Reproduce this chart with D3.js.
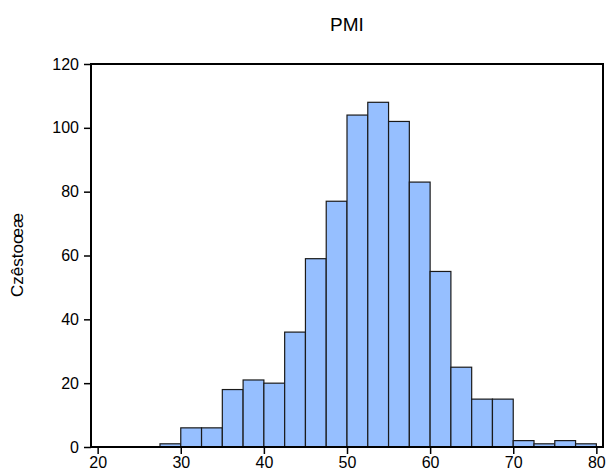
<!DOCTYPE html>
<html><head><meta charset="utf-8">
<script src="https://cdn.jsdelivr.net/npm/d3@7"></script>
<style>body{margin:0;background:#fff}</style>
</head><body>
<svg id="c" width="606" height="474"></svg>
<script>
const binStarts = [27.5,30,32.5,35,37.5,40,42.5,45,47.5,50,52.5,55,57.5,60,62.5,65,67.5,70,72.5,75,77.5];
const counts    = [1,6,6,18,21,20,36,59,77,104,108,102,83,55,25,15,15,2,1,2,1];
const binWidth = 2.5;
const xTicks = [20,30,40,50,60,70,80];
const yTicks = [0,20,40,60,80,100,120];
const title = "PMI";
const yLabel = "Czêstoœæ";

const svg = d3.select("#c");
const L=91, R=603, T=64, B=447;
const x = d3.scaleLinear().domain([19.2,80.8]).range([L,R]);
const y = d3.scaleLinear().domain([0,120]).range([B,T]);
const font = "'Liberation Sans', Arial, Helvetica, sans-serif";

svg.append("g").selectAll("rect").data(binStarts).join("rect")
  .attr("x", (d)=>x(d)).attr("width", (d)=>x(d+binWidth)-x(d))
  .attr("y", (d,i)=>y(counts[i])).attr("height",(d,i)=>y(0)-y(counts[i]))
  .attr("fill","#96bfff").attr("stroke","#1a1a1a").attr("stroke-width",1.2);

svg.append("rect").attr("x",L).attr("y",T).attr("width",R-L).attr("height",B-T)
  .attr("fill","none").attr("stroke","#000").attr("stroke-width",2);

const xa = svg.append("g").attr("transform",`translate(0,${B})`)
  .call(d3.axisBottom(x).tickValues(xTicks).tickSize(7).tickPadding(3).tickFormat(d3.format("d")));
const ya = svg.append("g").attr("transform",`translate(${L},0)`)
  .call(d3.axisLeft(y).tickValues(yTicks).tickSize(7).tickPadding(5).tickFormat(d3.format("d")));
[xa,ya].forEach(a=>{
  a.select(".domain").remove();
  a.selectAll("line").attr("stroke","#000").attr("stroke-width",1.5);
  a.selectAll("text").attr("font-family",font).attr("font-size",16).attr("fill","#000");
});

svg.append("text").attr("x",(L+R)/2).attr("y",31).attr("text-anchor","middle")
  .attr("font-family",font).attr("font-size",19).text(title);
svg.append("text").attr("transform",`translate(23,255) rotate(-90)`)
  .attr("text-anchor","middle").attr("font-family",font).attr("font-size",17).text(yLabel);
</script>
</body></html>
